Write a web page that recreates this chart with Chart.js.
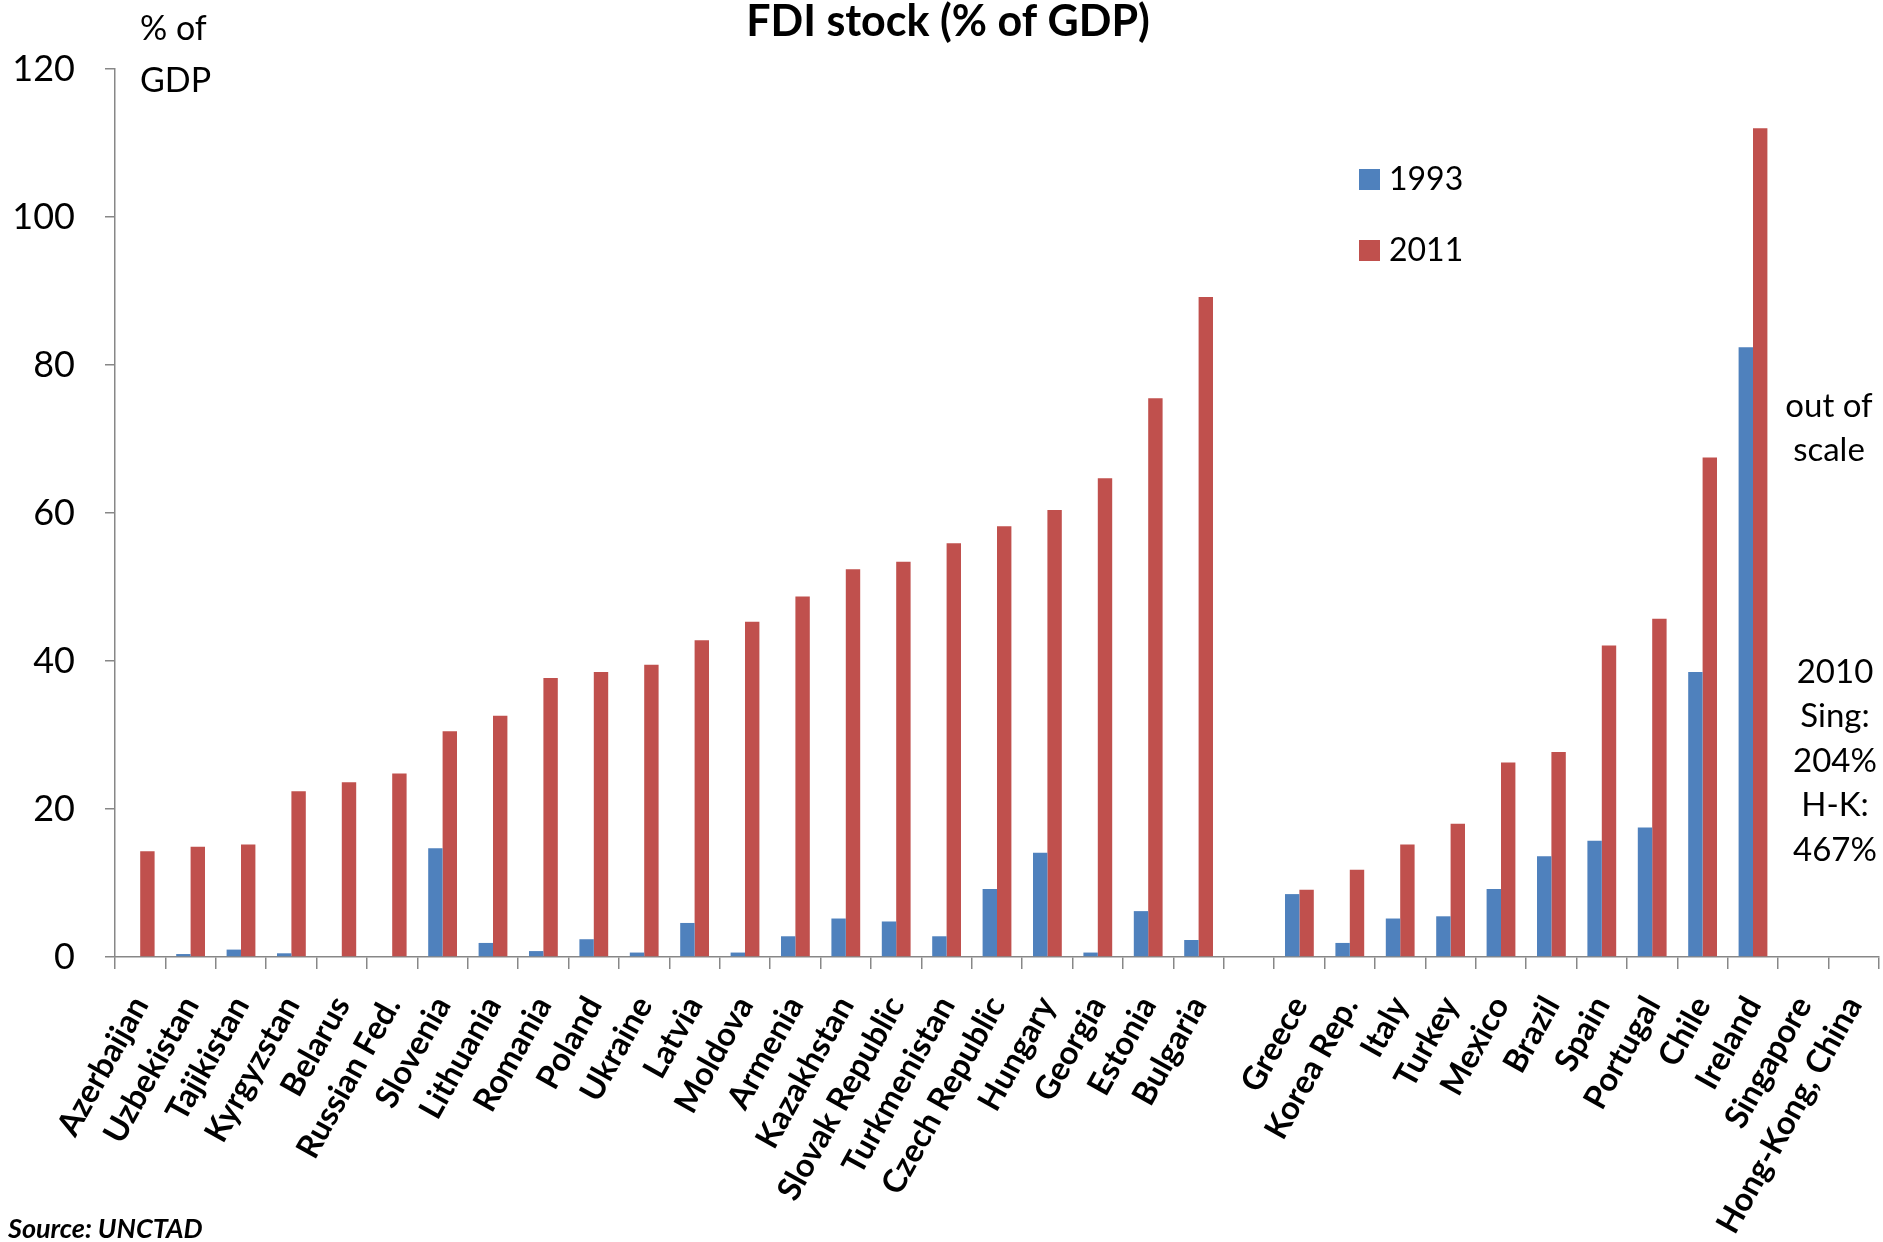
<!DOCTYPE html>
<html>
<head>
<meta charset="utf-8">
<title>FDI stock (% of GDP)</title>
<script src="https://cdn.jsdelivr.net/npm/chart.js@4.4.1/dist/chart.umd.min.js"></script>
<style>
  html, body { margin: 0; padding: 0; background: #fff; }
  #wrap { width: 1883px; height: 1242px; }
</style>
</head>
<body>
<div id="wrap"><canvas id="fdi" width="1883" height="1242"></canvas></div>
<script>
// FDI stock as % of GDP; the empty category splits transition economies from the rest
const countries = [
  "Azerbaijan", "Uzbekistan", "Tajikistan", "Kyrgyzstan", "Belarus", "Russian Fed.",
  "Slovenia", "Lithuania", "Romania", "Poland", "Ukraine", "Latvia", "Moldova",
  "Armenia", "Kazakhstan", "Slovak Republic", "Turkmenistan", "Czech Republic",
  "Hungary", "Georgia", "Estonia", "Bulgaria", "",
  "Greece", "Korea Rep.", "Italy", "Turkey", "Mexico", "Brazil", "Spain",
  "Portugal", "Chile", "Ireland", "Singapore", "Hong-Kong, China"
]
const stock1993 = [
  null, 0.4, 1.0, 0.5, 0.1, null,
  14.7, 1.9, 0.8, 2.4, 0.6, 4.6, 0.6,
  2.8, 5.2, 4.8, 2.8, 9.2,
  14.1, 0.6, 6.2, 2.3, null,
  8.5, 1.9, 5.2, 5.5, 9.2, 13.6, 15.7,
  17.5, 38.5, 82.4, null, null
]
const stock2011 = [
  14.3, 14.9, 15.2, 22.4, 23.6, 24.8,
  30.5, 32.6, 37.7, 38.5, 39.5, 42.8, 45.3,
  48.7, 52.4, 53.4, 55.9, 58.2,
  60.4, 64.7, 75.5, 89.2, null,
  9.1, 11.8, 15.2, 18.0, 26.3, 27.7, 42.1,
  45.7, 67.5, 112.0, null, null
]
const yTicks = [0, 20, 40, 60, 80, 100, 120]
const seriesNames = ["1993", "2011"]
const seriesColors = ["#4F81BD", "#C0504D"]

const titleText = "FDI stock (% of GDP)"
const unitLines = ["% of", "GDP"]
const outOfScaleLines = ["out of", "scale"]
const hubLines = ["2010", "Sing:", "204%", "H-K:", "467%"]
const sourceText = "Source: UNCTAD"

const axisGrey = "#878787"
Chart.defaults.font.family = "Lato, 'Open Sans', sans-serif"
Chart.defaults.color = "#000"

// title, unit label, legend and side notes
const chartText = {
  id: "chartText",
  afterDraw(chart) {
    const ctx = chart.ctx
    ctx.save()
    ctx.fillStyle = "#000"

    ctx.font = "bold 43px Lato"
    ctx.textAlign = "center"
    ctx.textBaseline = "alphabetic"
    ctx.fillText(titleText, 948, 36)

    ctx.font = "34px Lato"
    ctx.textAlign = "left"
    unitLines.forEach((line, i) => ctx.fillText(line, 140, 40 + i * 52))

    // legend
    ctx.font = "32px Lato"
    ctx.textBaseline = "middle"
    chart.data.datasets.forEach((ds, i) => {
      const cy = 179 + i * 71
      ctx.fillStyle = ds.backgroundColor
      ctx.fillRect(1359, cy - 10, 21, 21)
      ctx.fillStyle = "#000"
      ctx.fillText(ds.label, 1389, cy + 1)
    })

    ctx.font = "33px Lato"
    ctx.textAlign = "center"
    outOfScaleLines.forEach((line, i) => ctx.fillText(line, 1829, 406 + i * 44))
    hubLines.forEach((line, i) => ctx.fillText(line, 1835, 672 + i * 44.5))

    ctx.font = "italic bold 27px Lato"
    ctx.textAlign = "left"
    ctx.textBaseline = "alphabetic"
    ctx.fillText(sourceText, 8, 1238)
    ctx.restore()
  }
}

new Chart(document.getElementById("fdi"), {
  type: "bar",
  data: {
    labels: countries,
    datasets: [
      { label: seriesNames[0], data: stock1993, backgroundColor: seriesColors[0] },
      { label: seriesNames[1], data: stock2011, backgroundColor: seriesColors[1] }
    ]
  },
  options: {
    responsive: false,
    animation: false,
    events: [],
    layout: { padding: { top: 69, right: 4, bottom: 0, left: 0 } },
    datasets: {
      bar: { categoryPercentage: 1 / 1.75, barPercentage: 1, borderWidth: 0 }
    },
    plugins: {
      legend: { display: false },
      title: { display: false },
      tooltip: { enabled: false }
    },
    scales: {
      x: {
        afterFit(scale) {
          // fixed axis band; rotated labels may run past the plot edges
          scale.height = 285
          scale.paddingLeft = 0
          scale.paddingRight = 0
        },
        grid: {
          offset: true,
          drawOnChartArea: false,
          drawTicks: true,
          tickLength: 12,
          color: axisGrey,
          lineWidth: 1.5
        },
        border: { display: true, color: axisGrey, width: 1.5 },
        ticks: {
          autoSkip: false,
          minRotation: 61,
          maxRotation: 61,
          padding: 21,
          color: "#000",
          font: { size: 32.5, weight: "bold" }
        }
      },
      y: {
        min: yTicks[0],
        max: yTicks[yTicks.length - 1],
        afterFit(scale) { scale.width = 115 },
        afterBuildTicks(scale) { scale.ticks = yTicks.map(v => ({ value: v })) },
        grid: {
          drawOnChartArea: false,
          drawTicks: true,
          tickLength: 10,
          color: axisGrey,
          lineWidth: 1.5
        },
        border: { display: true, color: axisGrey, width: 1.5 },
        ticks: {
          padding: 30,
          color: "#000",
          font: { size: 36 }
        }
      }
    }
  },
  plugins: [chartText]
})
</script>
</body>
</html>
